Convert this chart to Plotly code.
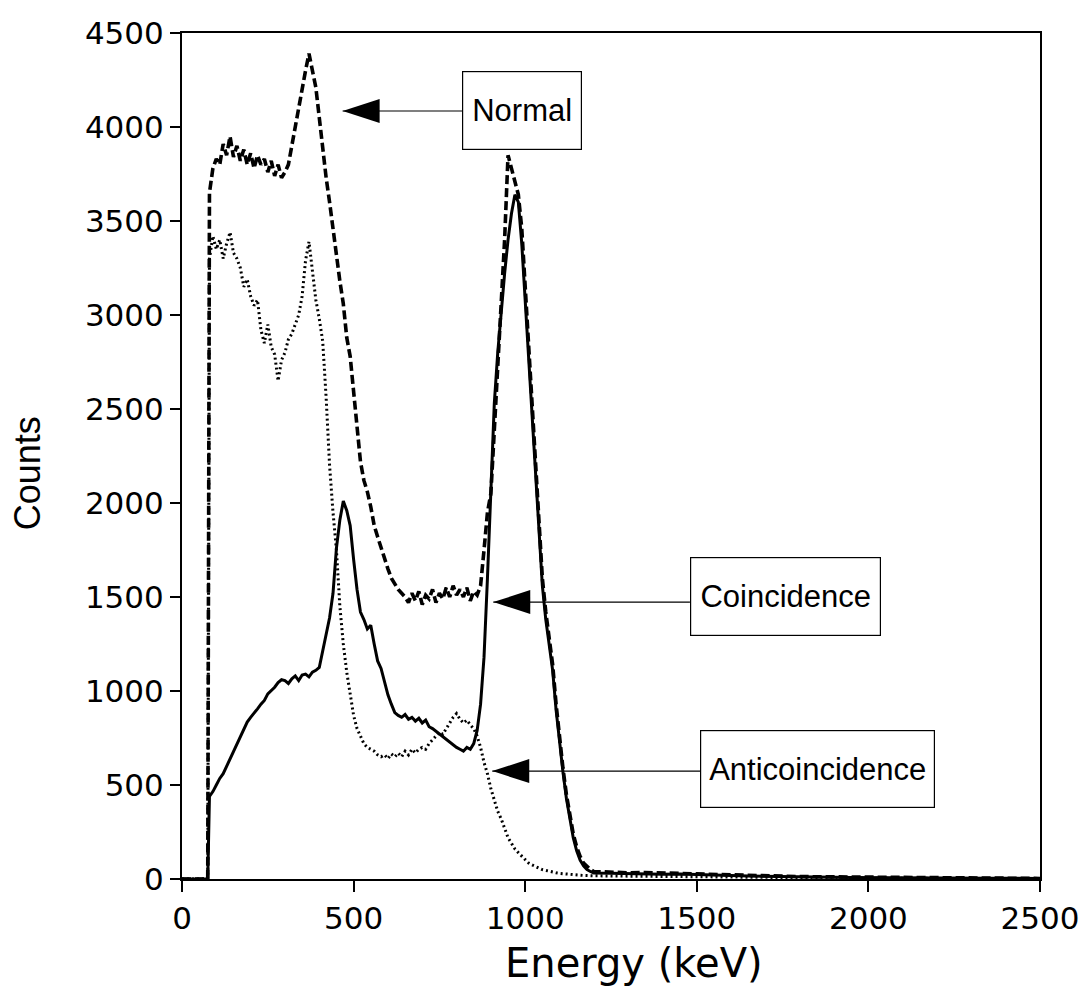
import plotly.graph_objects as go

# ---------------- data ----------------
energy_lead = [0, 60, 75]
energy_main = list(range(80, 1201, 10))
energy_tail = list(range(1250, 2501, 50))
energy = energy_lead + energy_main + energy_tail

lead_zero = [0, 0, 0]

coincidence_main = [
    440, 465, 500, 535, 560, 600, 640, 675, 720, 755,
    800, 835, 860, 880, 905, 930, 950, 985, 1000, 1020,
    1045, 1060, 1055, 1040, 1065, 1080, 1055, 1085, 1090, 1075,
    1100, 1110, 1125, 1210, 1290, 1390, 1520, 1760, 1910, 2010,
    1960, 1880, 1700, 1540, 1420, 1380, 1330, 1350, 1250, 1160,
    1120, 1050, 980, 930, 885, 870, 860, 875, 850, 860,
    840, 855, 830, 845, 810, 800, 785, 770, 760, 740,
    725, 710, 700, 690, 680, 700, 690, 720, 790, 930,
    1180, 1600, 2100, 2530, 2800, 3020, 3220, 3400, 3540, 3640,
    3600, 3380, 3080, 2780, 2450, 2190, 1900, 1560, 1380, 1230,
    1110, 900, 720, 570, 430, 320, 220, 150, 100, 70,
    50, 40, 32,
]
coincidence_tail = [30, 28, 29, 25, 26, 22, 20, 18, 16, 14, 12, 11, 10,
                    9, 8, 7, 7, 6, 6, 5, 5, 4, 4, 4, 3, 3]

anti_main = [
    3300, 3420, 3350, 3400, 3300, 3380, 3440, 3330, 3300, 3250,
    3150, 3190, 3100, 3050, 3080, 2920, 2850, 2950, 2830, 2790,
    2650, 2760, 2800, 2870, 2900, 2950, 3000, 3100, 3290, 3390,
    3250, 3080, 2980, 2860, 2560, 2200, 1950, 1750, 1450, 1250,
    1100, 980, 870, 800, 760, 720, 700, 690, 680, 660,
    650, 660, 640, 665, 650, 670, 650, 680, 660, 690,
    670, 690, 700, 690, 720, 740, 760, 780, 770, 800,
    830, 860, 880, 850, 830, 845, 820, 800, 760, 700,
    620, 560, 480, 420, 360, 320, 270, 220, 190, 160,
    140, 120, 100, 85, 75, 65, 58, 50, 45, 40,
    36, 33, 30, 28, 25, 23, 22, 21, 20, 19,
    18, 18, 17,
]
anti_tail = [16, 15, 14, 13, 12, 11, 10, 9, 8, 7, 7, 6, 6,
             5, 5, 4, 4, 4, 3, 3, 3, 3, 2, 2, 2, 2]

normal_main = [
    3650, 3780, 3830, 3800, 3910, 3850, 3950, 3840, 3900, 3820,
    3880, 3800, 3860, 3780, 3850, 3800, 3830, 3760, 3820, 3740,
    3800, 3730, 3760, 3800, 3900, 4000, 4120, 4200, 4300, 4390,
    4300, 4210, 4050, 3880, 3730, 3600, 3450, 3330, 3180, 3060,
    2880, 2780, 2580, 2400, 2220, 2120, 2060, 1980, 1880, 1820,
    1760, 1700, 1650, 1600, 1570, 1540, 1520, 1500, 1470, 1520,
    1480, 1530, 1460, 1510, 1490, 1540, 1470, 1520, 1490, 1550,
    1500, 1560, 1510, 1540, 1500, 1550, 1480, 1530, 1510, 1560,
    1750, 1950, 2050, 2370, 2720, 3050, 3400, 3850, 3780, 3700,
    3640, 3460, 3150, 2850, 2520, 2250, 1950, 1600, 1420, 1270,
    1140, 930, 750, 590, 450, 340, 240, 170, 120, 85,
    65, 50, 40,
]
normal_tail = [35, 33, 34, 30, 30, 27, 24, 22, 19, 17, 15, 13, 12,
               11, 10, 9, 8, 7, 7, 6, 6, 5, 5, 4, 4, 3]

coincidence = lead_zero + coincidence_main + coincidence_tail
anticoincidence = lead_zero + anti_main + anti_tail
normal = lead_zero + normal_main + normal_tail

x_ticks = [0, 500, 1000, 1500, 2000, 2500]
y_ticks = [0, 500, 1000, 1500, 2000, 2500, 3000, 3500, 4000, 4500]

# label callouts
labels = ["Normal", "Coincidence", "Anticoincidence"]
label_cx = [991, 1757, 1853]
label_cy = [4090, 1503, 585]
label_w = [118, 189, 233]
label_h = [77, 77, 76]
tip_x = [468, 907, 904]
tip_y = [4085, 1473, 574]
box_left_x = [817, 1480, 1512]

# ---------------- figure ----------------
fig = go.Figure()
fig.add_trace(go.Scatter(x=energy, y=anticoincidence, mode="lines", name="Anticoincidence",
                         line=dict(color="black", width=3, dash="2px,3px")))
fig.add_trace(go.Scatter(x=energy, y=normal, mode="lines", name="Normal",
                         line=dict(color="black", width=3.6, dash="9px,4px")))
fig.add_trace(go.Scatter(x=energy, y=coincidence, mode="lines", name="Coincidence",
                         line=dict(color="black", width=3)))

tick_font = dict(family="DejaVu Sans", size=31, color="black")

fig.update_layout(
    width=1091, height=986,
    margin=dict(l=182, r=49, t=33, b=107),
    paper_bgcolor="white", plot_bgcolor="white",
    showlegend=False,
    xaxis=dict(range=[0, 2500], tickvals=x_ticks, ticks="outside", ticklen=11, tickwidth=1.5,
               tickcolor="black", showline=True, linecolor="black", linewidth=2, mirror=True,
               showgrid=False, zeroline=False, tickfont=tick_font),
    yaxis=dict(range=[0, 4500], tickvals=y_ticks, ticks="outside", ticklen=10, tickwidth=1.5,
               tickcolor="black", showline=True, linecolor="black", linewidth=2, mirror=True,
               showgrid=False, zeroline=False, tickfont=tick_font),
)

annotations = [
    dict(text="Energy (keV)", xref="paper", yref="paper", x=0.5267, y=-0.0995,
         xanchor="center", yanchor="middle", showarrow=False,
         font=dict(family="DejaVu Sans", size=40, color="black")),
    dict(text="Counts", xref="paper", yref="paper", x=-0.179, y=0.48, textangle=-90,
         xanchor="center", yanchor="middle", showarrow=False,
         font=dict(family="Liberation Sans, Arial", size=36, color="black")),
]
shapes = []
for i, t in enumerate(labels):
    annotations.append(dict(
        text=t, xref="x", yref="y", x=label_cx[i], y=label_cy[i],
        xanchor="center", yanchor="middle", showarrow=False,
        width=label_w[i], height=label_h[i], borderpad=0, borderwidth=1.2,
        bordercolor="black", bgcolor="white", align="center", valign="middle",
        font=dict(family="Liberation Sans, Arial", size=31, color="black")))
    shapes.append(dict(type="line", xref="x", yref="y", x0=tip_x[i], x1=box_left_x[i],
                       y0=tip_y[i], y1=tip_y[i], line=dict(color="black", width=1.2)))
    shapes.append(dict(type="path", xref="x", yref="y", xsizemode="pixel", ysizemode="pixel",
                       xanchor=tip_x[i], yanchor=tip_y[i], path="M0,0 L37,12 L37,-12 Z",
                       fillcolor="black", line=dict(width=0)))

fig.update_layout(annotations=annotations, shapes=shapes)
fig.write_html("out.html")
